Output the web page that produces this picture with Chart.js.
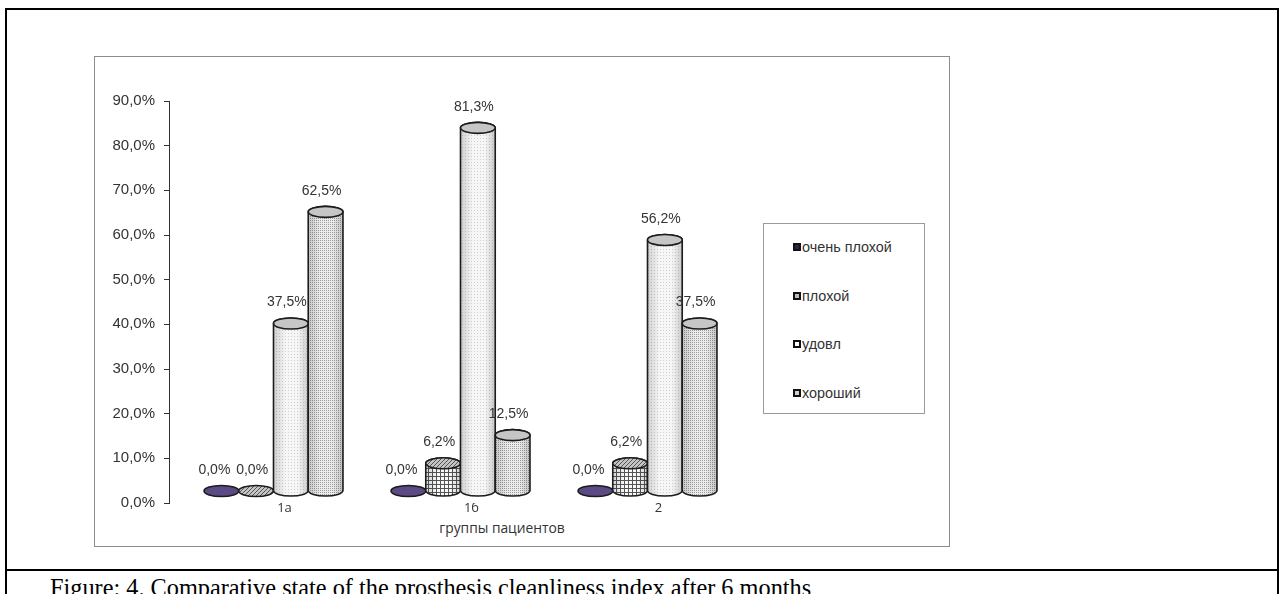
<!DOCTYPE html>
<html>
<head>
<meta charset="utf-8">
<script src="https://cdn.jsdelivr.net/npm/chart.js@4"></script>
<style>
  body { margin: 0; background: #fff; width: 1281px; height: 594px; overflow: hidden; position: relative; }
  #frame { position: absolute; left: 5px; top: 8px; width: 1270px; height: 600px; border: 2px solid #000; }
  #rule { position: absolute; left: 5px; top: 569px; width: 1274px; height: 2px; background: #000; }
  #caption { position: absolute; left: 50px; top: 576px; font: 24.3px/24px "Liberation Serif", "Times New Roman", serif; color: #000; white-space: nowrap; }
  #chartBox { position: absolute; left: 94px; top: 56px; width: 854px; height: 489px; border: 1px solid #8c8c8c; }
  #legend { position: absolute; left: 763px; top: 223px; width: 160px; height: 189px; border: 1px solid #9a9a9a; }
  .item { position: absolute; left: 29px; font: 14.4px "Liberation Sans", Arial, sans-serif; color: #333; line-height: 16px; white-space: nowrap; }
  .mark { display: inline-block; width: 4px; height: 4px; border: 2px solid #111; margin-right: 1px; vertical-align: 1px; }
  #xTitle { position: absolute; left: 402px; width: 200px; top: 518px; text-align: center; font: 13.8px "Open Sans", sans-serif; color: #333; }
  canvas { position: absolute; left: 0; top: 0; }
</style>
</head>
<body>
<div id="frame"></div>
<div id="rule"></div>
<div id="caption">Figure: 4. Comparative state of the prosthesis cleanliness index after 6 months</div>
<div id="chartBox"></div>
<div id="legend"></div>
<div id="xTitle">группы пациентов</div>
<canvas id="myChart" width="1281" height="594"></canvas>
<script>
const categories = ['1а', '1б', '2'];
const seriesNames = ['очень плохой', 'плохой', 'удовл', 'хороший'];
const veryPoor = [0.0, 0.0, 0.0];
const poor = [0.0, 6.2, 6.2];
const satisfactory = [37.5, 81.3, 56.2];
const good = [62.5, 12.5, 37.5];
const yMax = 90;
const yStep = 10;

const canvas = document.getElementById('myChart');
const ctx = canvas.getContext('2d');

function makePattern(size, draw) {
  const c = document.createElement('canvas');
  c.width = size;
  c.height = size;
  draw(c.getContext('2d'), size);
  return ctx.createPattern(c, 'repeat');
}

// textures that imitate the excel fills
const gridFill = makePattern(4, (g, s) => {
  g.fillStyle = '#fafafa';
  g.fillRect(0, 0, s, s);
  g.fillStyle = '#555';
  g.fillRect(0, 0, s, 1);
  g.fillRect(0, 0, 1, s);
});
const hatchFill = makePattern(4, (g, s) => {
  g.fillStyle = '#c4c4c4';
  g.fillRect(0, 0, s, s);
  g.fillStyle = '#555';
  for (let i = 0; i < s; i++) g.fillRect(i, s - 1 - i, 1, 1);
});
const lightDots = makePattern(3, (g, s) => {
  g.fillStyle = '#f6f6f6';
  g.fillRect(0, 0, s, s);
  g.fillStyle = '#cfcfcf';
  g.fillRect(0, 0, 1, 1);
});
const denseDots = makePattern(2, (g, s) => {
  g.fillStyle = '#ececec';
  g.fillRect(0, 0, s, s);
  g.fillStyle = '#9c9c9c';
  g.fillRect(0, 0, 1, 1);
});

const styles = [
  { side: '#5b4a84', cap: '#5b4a84', mark: '#2e2540' },
  { side: gridFill, cap: hatchFill, mark: '#bdbdbd' },
  { side: lightDots, cap: '#c6c6c6', mark: '#ffffff' },
  { side: denseDots, cap: '#c6c6c6', mark: '#d0d0d0' }
];

const legend = document.getElementById('legend');
seriesNames.forEach((name, i) => {
  const d = document.createElement('div');
  d.className = 'item';
  d.style.top = (15 + i * 48.5) + 'px';
  d.innerHTML = '<span class="mark" style="background:' + styles[i].mark + '"></span>' + name;
  legend.appendChild(d);
});

const fmt = v => v.toFixed(1).replace('.', ',') + '%';

// 3d depth shift of the columns against the axes
const depthX = 11;
const depthY = 12;
const ry = 5.5;

const cylinders = {
  id: 'cylinders',
  afterDatasetsDraw(chart) {
    const c = chart.ctx;
    chart.data.datasets.forEach((ds, di) => {
      const meta = chart.getDatasetMeta(di);
      const st = styles[di];
      meta.data.forEach((bar, i) => {
        const rx = bar.width / 2;
        const cx = bar.x + depthX;
        const top = bar.y - depthY;
        const bottom = bar.base - depthY;
        c.save();
        c.lineWidth = 1.6;
        c.strokeStyle = '#1c1c1c';
        if (bottom - top > 0.5) {
          c.beginPath();
          c.moveTo(cx - rx, top);
          c.lineTo(cx - rx, bottom);
          c.ellipse(cx, bottom, rx, ry, 0, Math.PI, 0, true);
          c.lineTo(cx + rx, top);
          c.ellipse(cx, top, rx, ry, 0, 0, Math.PI, true);
          c.closePath();
          c.fillStyle = st.side;
          c.fill();
          const shade = c.createLinearGradient(cx - rx, 0, cx + rx, 0);
          shade.addColorStop(0, 'rgba(0,0,0,0.16)');
          shade.addColorStop(0.35, 'rgba(0,0,0,0)');
          shade.addColorStop(0.7, 'rgba(0,0,0,0)');
          shade.addColorStop(1, 'rgba(0,0,0,0.18)');
          c.fillStyle = shade;
          c.fill();
          c.stroke();
        }
        c.beginPath();
        c.ellipse(cx, top, rx, ry, 0, 0, Math.PI * 2);
        c.fillStyle = st.cap;
        c.fill();
        c.stroke();
        c.fillStyle = '#333';
        c.font = '14px "Liberation Sans", Arial, sans-serif';
        c.textAlign = 'center';
        c.textBaseline = 'middle';
        c.fillText(fmt(ds.data[i]), cx - (di === 0 ? 7 : 4), top - 21);
        c.restore();
      });
    });
  }
};

new Chart(canvas, {
  type: 'bar',
  data: {
    labels: categories,
    datasets: [veryPoor, poor, satisfactory, good].map((vals, i) => ({
      label: seriesNames[i],
      data: vals,
      backgroundColor: 'rgba(0,0,0,0)',
      borderWidth: 0,
      barPercentage: 1,
      categoryPercentage: 0.743
    }))
  },
  options: {
    responsive: false,
    animation: false,
    devicePixelRatio: 1,
    layout: { padding: { left: 109, top: 101, right: 551, bottom: 51 } },
    plugins: {
      legend: { display: false },
      tooltip: { enabled: false }
    },
    scales: {
      x: {
        grid: { display: false, drawTicks: false },
        border: { display: false },
        ticks: {
          color: '#333',
          font: { family: '"Open Sans", sans-serif', size: 13 },
          padding: -3,
          labelOffset: 22,
          maxRotation: 0
        },
        afterFit: scale => { scale.height = 40; }
      },
      y: {
        min: 0,
        max: yMax,
        grid: { drawOnChartArea: false, tickLength: 5, color: '#333', lineWidth: 1 },
        border: { display: true, color: '#333', width: 1 },
        ticks: {
          stepSize: yStep,
          color: '#333',
          padding: 9,
          font: { family: '"Liberation Sans", Arial, sans-serif', size: 15 },
          callback: v => fmt(v)
        },
        afterFit: scale => { scale.width = 60; }
      }
    }
  },
  plugins: [cylinders]
});
</script>
</body>
</html>
